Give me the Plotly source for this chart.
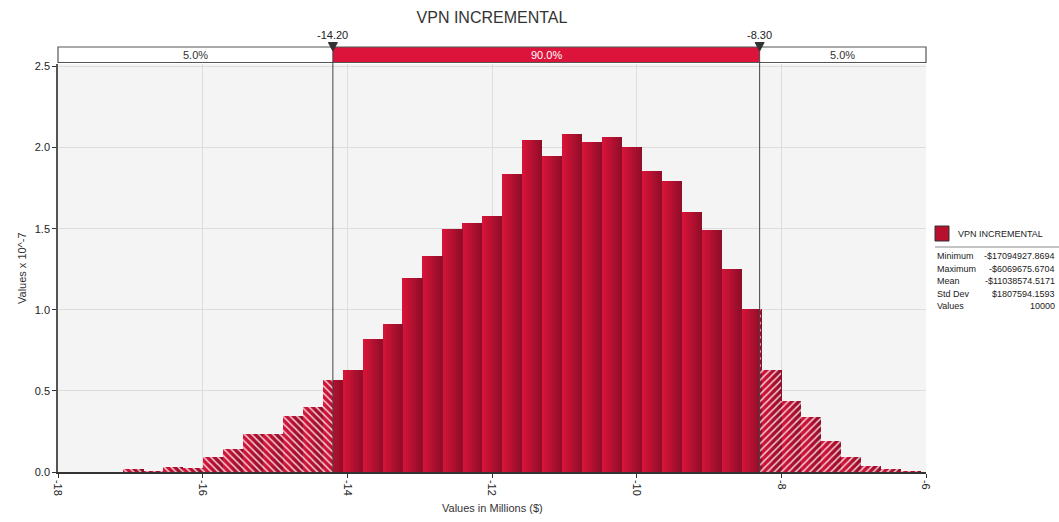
import plotly.graph_objects as go

# histogram of VPN INCREMENTAL, values in millions ($), density x 10^-7
bin_min = -17.0949
bin_max = -6.0697
heights = [0.018, 0.005, 0.031, 0.025, 0.094, 0.142, 0.234, 0.234, 0.345, 0.400,
           0.567, 0.628, 0.819, 0.910, 1.195, 1.329, 1.501, 1.532, 1.577, 1.840,
           2.044, 1.947, 2.081, 2.035, 2.068, 2.004, 1.856, 1.793, 1.604, 1.489,
           1.253, 1.004, 0.628, 0.437, 0.337, 0.191, 0.094, 0.037, 0.018, 0.006]

delimiters = [-14.20, -8.30]
delimiter_labels = ["-14.20", "-8.30"]
band_labels = ["5.0%", "90.0%", "5.0%"]

stat_names = ["Minimum", "Maximum", "Mean", "Std Dev", "Values"]
stat_values = ["-$17094927.8694", "-$6069675.6704", "-$11038574.5171", "$1807594.1593", "10000"]

x_ticks = [-18, -16, -14, -12, -10, -8, -6]
y_ticks = [0.0, 0.5, 1.0, 1.5, 2.0, 2.5]

title = "VPN INCREMENTAL"
x_title = "Values in Millions ($)"
y_title = "Values x 10^-7"

# layout in pixels (1059 x 522 page)
W, H = 1059, 522
PL, PR, PT, PB = 58, 926, 64, 472
FONT = "Liberation Sans, Arial, sans-serif"
CRIMSON = "#dc143c"


def px_x(px):
    return (px - PL) / (PR - PL)


def px_y(py):
    return (PB - py) / (PB - PT)


def note(x, y, text, size=11, color="#222", xanchor="center", xref="paper", **kw):
    return dict(x=x, y=y, xref=xref, yref="paper", text=text, showarrow=False,
                xanchor=xanchor, yanchor="middle",
                font=dict(family=FONT, size=size, color=color), **kw)


n_bins = len(heights)
bw = (bin_max - bin_min) / n_bins
edges = [bin_min + i * bw for i in range(n_bins + 1)]

fig = go.Figure()

# each bar gets a left-to-right shade, drawn as thin opaque slices
n_slices = 10
c_left = (214, 20, 58)
c_right = (146, 13, 40)
slice_w = bw / n_slices
for s in range(n_slices):
    t = s / (n_slices - 1)
    col = tuple(round(a + (b - a) * t) for a, b in zip(c_left, c_right))
    fig.add_bar(
        x=[edges[i] + (s + 0.5) * slice_w for i in range(n_bins)],
        y=heights,
        width=slice_w * 1.15,
        marker=dict(color="rgb(%d,%d,%d)" % col, line=dict(width=0)),
        hoverinfo="skip",
        showlegend=False,
    )

# hatching on the two 5% tails
for side, shape in (("left", "\\"), ("right", "/")):
    xs, ws, ys = [], [], []
    for i in range(n_bins):
        lo, hi = edges[i], edges[i + 1]
        if side == "left":
            hi = min(hi, delimiters[0])
        else:
            lo = max(lo, delimiters[1])
        if hi > lo:
            xs.append((lo + hi) / 2)
            ws.append(hi - lo)
            ys.append(heights[i])
    fig.add_bar(
        x=xs, y=ys, width=ws,
        marker=dict(color="rgba(0,0,0,0)", line=dict(width=0),
                    pattern=dict(shape=shape, size=5, solidity=0.3,
                                 fgcolor="rgba(255,235,240,0.85)", fillmode="replace")),
        hoverinfo="skip",
        showlegend=False,
    )

shapes = []
annotations = []

# band above the plot with the percentiles
band_y0, band_y1 = px_y(62.5), px_y(47)
bounds = [x_ticks[0]] + delimiters + [x_ticks[-1]]
for k in range(3):
    fill = CRIMSON if k == 1 else "white"
    shapes.append(dict(type="rect", xref="x", yref="paper",
                       x0=bounds[k], x1=bounds[k + 1], y0=band_y0, y1=band_y1,
                       fillcolor=fill, line=dict(width=0), layer="above"))
    annotations.append(note((bounds[k] + bounds[k + 1]) / 2, (band_y0 + band_y1) / 2,
                            band_labels[k], xref="x",
                            color="white" if k == 1 else "#333"))
shapes.append(dict(type="rect", xref="paper", yref="paper", x0=0, x1=1,
                   y0=band_y0, y1=band_y1, line=dict(color="#555", width=1.2),
                   fillcolor="rgba(0,0,0,0)", layer="above"))

tri_w = 4.5 / (PR - PL) * (x_ticks[-1] - x_ticks[0])
for d, lab in zip(delimiters, delimiter_labels):
    shapes.append(dict(type="line", xref="x", yref="paper", x0=d, x1=d,
                       y0=0, y1=band_y1, line=dict(color="#444", width=1), layer="above"))
    ty0, ty1 = px_y(51), px_y(42.5)
    shapes.append(dict(type="path", xref="x", yref="paper",
                       path="M %f,%f L %f,%f L %f,%f Z" % (d - tri_w, ty1, d + tri_w, ty1, d, ty0),
                       fillcolor="#333", line=dict(color="#333", width=1), layer="above"))
    annotations.append(note(d, px_y(35), lab, xref="x"))

# axis titles
annotations.append(note(px_x(492), px_y(508), x_title, color="#333"))
annotations.append(note(px_x(22), px_y(268), y_title, color="#333", textangle=-90))

# legend / statistics box on the right
shapes.append(dict(type="rect", xref="paper", yref="paper",
                   x0=px_x(935), x1=px_x(949), y0=px_y(241), y1=px_y(226),
                   fillcolor="#b8102f", line=dict(color="#333", width=1)))
annotations.append(note(px_x(956), px_y(233.5), "VPN INCREMENTAL", size=9, xanchor="left"))
shapes.append(dict(type="line", xref="paper", yref="paper",
                   x0=px_x(935), x1=px_x(1059), y0=px_y(247), y1=px_y(247),
                   line=dict(color="#888", width=1)))
for i, (nm, val) in enumerate(zip(stat_names, stat_values)):
    yy = px_y(256 + 12.6 * i)
    annotations.append(note(px_x(935), yy, nm, size=9, xanchor="left"))
    annotations.append(note(px_x(1057), yy, val, size=9, xanchor="right"))

fig.update_layout(
    width=W, height=H,
    margin=dict(l=PL, r=W - PR, t=PT, b=H - PB),
    paper_bgcolor="white",
    plot_bgcolor="#f4f4f4",
    barmode="overlay",
    bargap=0,
    showlegend=False,
    title=dict(text=title, x=px_x(492), xref="paper", y=1 - 17 / H, yanchor="middle",
               xanchor="center", font=dict(family=FONT, size=16, color="#333")),
    shapes=shapes,
    annotations=annotations,
    xaxis=dict(range=[x_ticks[0], x_ticks[-1]], tickvals=x_ticks,
               ticktext=[str(v) for v in x_ticks], tickangle=90,
               ticks="outside", ticklen=4, tickcolor="#333",
               showgrid=True, gridcolor="#dddddd", gridwidth=1,
               showline=True, linecolor="#333", linewidth=1.5, zeroline=False,
               tickfont=dict(family=FONT, size=11, color="#222")),
    yaxis=dict(range=[0, 2.515], tickvals=y_ticks, tickformat=".1f",
               ticks="outside", ticklen=4, tickcolor="#333",
               showgrid=True, gridcolor="#dddddd", gridwidth=1,
               showline=True, linecolor="#555", linewidth=1.5, zeroline=False,
               tickfont=dict(family=FONT, size=11, color="#222")),
)

# the page body has an 8px margin by default; drop it so the figure sits at 0,0
fig.write_html("out.html", config={"displayModeBar": False},
               post_script="document.body.style.margin='0px';")
